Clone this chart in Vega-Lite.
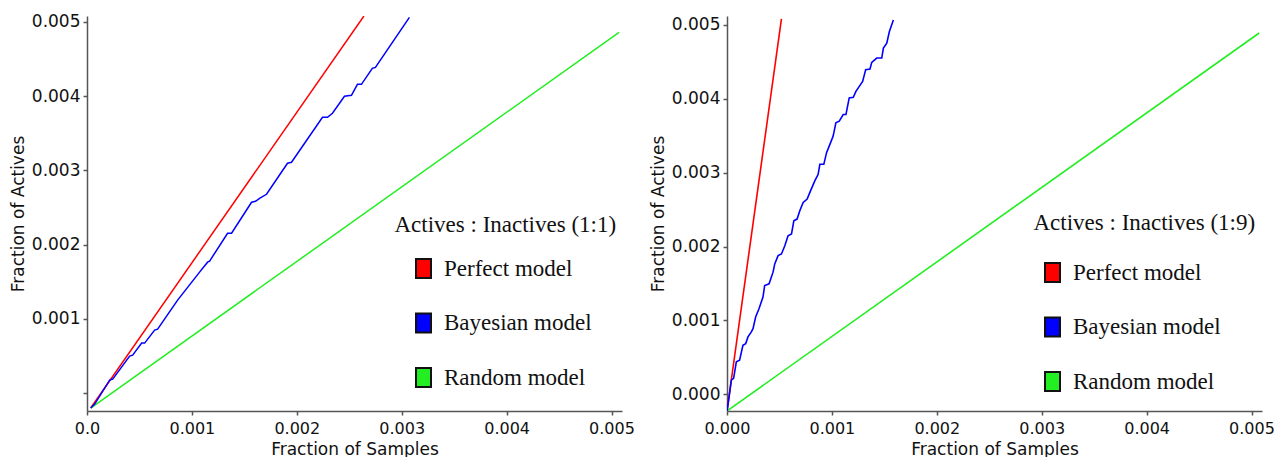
{
  "$schema": "https://vega.github.io/schema/vega-lite/v6.json",
  "padding": {"left": 9, "top": 12, "right": 12, "bottom": 0},
  "background": "white",
  "bounds": "flush",
  "spacing": 105,
  "config": {
    "view": {"stroke": null},
    "axis": {
      "grid": false,
      "domainColor": "#555",
      "domainWidth": 1.5,
      "tickColor": "#555",
      "tickWidth": 1.5,
      "tickSize": 4,
      "labelFont": "DejaVu Sans",
      "labelFontSize": 17,
      "labelColor": "#111",
      "labelPadding": 3,
      "labelFlush": false,
      "labelOverlap": false,
      "titleFont": "DejaVu Sans",
      "titleFontSize": 17,
      "titleFontWeight": "normal",
      "titleColor": "#111",
      "titlePadding": 4
    },
    "axisX": {"labelPadding": 5, "titlePadding": 5, "labelFontSize": 16},
    "legend": {
      "orient": "none",
      "titleFont": "Liberation Serif",
      "titleFontSize": 23,
      "titleFontWeight": "normal",
      "titleColor": "#111",
      "titleLimit": 500,
      "titlePadding": 18,
      "labelFont": "Liberation Serif",
      "labelFontSize": 23,
      "labelColor": "#111",
      "labelLimit": 400,
      "labelOffset": 9,
      "rowPadding": 27.5,
      "padding": 0,
      "symbolSize": 361,
      "symbolStrokeWidth": 2,
      "symbolStrokeColor": "#111",
      "symbolOpacity": 1
    }
  },
  "datasets": {
    "left": [
      {"model": "Perfect model", "x": 0.0000352, "y": -0.000202},
      {"model": "Perfect model", "x": 0.002640, "y": 0.005080},
      {"model": "Random model", "x": 0.0000352, "y": -0.000202},
      {"model": "Random model", "x": 0.005072, "y": 0.004859},
      {"model": "Bayesian model", "x": 0.0000352, "y": -0.000202},
      {"model": "Bayesian model", "x": 0.0000733, "y": -0.000148},
      {"model": "Bayesian model", "x": 0.0002162, "y": 0.000175},
      {"model": "Bayesian model", "x": 0.0002448, "y": 0.000188},
      {"model": "Bayesian model", "x": 0.0004067, "y": 0.000498},
      {"model": "Bayesian model", "x": 0.0004352, "y": 0.000511},
      {"model": "Bayesian model", "x": 0.000521, "y": 0.000673},
      {"model": "Bayesian model", "x": 0.0005495, "y": 0.000673},
      {"model": "Bayesian model", "x": 0.0006448, "y": 0.000848},
      {"model": "Bayesian model", "x": 0.0006733, "y": 0.000861},
      {"model": "Bayesian model", "x": 0.0008638, "y": 0.001252},
      {"model": "Bayesian model", "x": 0.0010733, "y": 0.001629},
      {"model": "Bayesian model", "x": 0.0011495, "y": 0.001763},
      {"model": "Bayesian model", "x": 0.0011686, "y": 0.001777},
      {"model": "Bayesian model", "x": 0.00134, "y": 0.002153},
      {"model": "Bayesian model", "x": 0.0013781, "y": 0.002153},
      {"model": "Bayesian model", "x": 0.0015686, "y": 0.002571},
      {"model": "Bayesian model", "x": 0.0016067, "y": 0.002584},
      {"model": "Bayesian model", "x": 0.0016448, "y": 0.002624},
      {"model": "Bayesian model", "x": 0.0017114, "y": 0.002678},
      {"model": "Bayesian model", "x": 0.0019114, "y": 0.003096},
      {"model": "Bayesian model", "x": 0.0019495, "y": 0.003109},
      {"model": "Bayesian model", "x": 0.0022448, "y": 0.003715},
      {"model": "Bayesian model", "x": 0.0022924, "y": 0.003715},
      {"model": "Bayesian model", "x": 0.00234, "y": 0.003769},
      {"model": "Bayesian model", "x": 0.0024543, "y": 0.003998},
      {"model": "Bayesian model", "x": 0.002521, "y": 0.004011},
      {"model": "Bayesian model", "x": 0.0025781, "y": 0.004159},
      {"model": "Bayesian model", "x": 0.0026162, "y": 0.004159},
      {"model": "Bayesian model", "x": 0.00272, "y": 0.004374},
      {"model": "Bayesian model", "x": 0.0027495, "y": 0.004388},
      {"model": "Bayesian model", "x": 0.0030733, "y": 0.005061}
    ],
    "right": [
      {"model": "Perfect model", "x": 0.0, "y": -0.000225},
      {"model": "Perfect model", "x": 0.000519, "y": 0.00508},
      {"model": "Random model", "x": 0.0, "y": -0.000225},
      {"model": "Random model", "x": 0.005073, "y": 0.00489},
      {"model": "Bayesian model", "x": 0.0, "y": -0.000225},
      {"model": "Bayesian model", "x": 0.000018, "y": -0.000054},
      {"model": "Bayesian model", "x": 0.000041, "y": 0.000193},
      {"model": "Bayesian model", "x": 0.000063, "y": 0.000216},
      {"model": "Bayesian model", "x": 0.000089, "y": 0.000441},
      {"model": "Bayesian model", "x": 0.000120, "y": 0.000462},
      {"model": "Bayesian model", "x": 0.000152, "y": 0.000664},
      {"model": "Bayesian model", "x": 0.000178, "y": 0.000687},
      {"model": "Bayesian model", "x": 0.000200, "y": 0.000778},
      {"model": "Bayesian model", "x": 0.000232, "y": 0.000845},
      {"model": "Bayesian model", "x": 0.000248, "y": 0.000889},
      {"model": "Bayesian model", "x": 0.000273, "y": 0.001047},
      {"model": "Bayesian model", "x": 0.000305, "y": 0.001159},
      {"model": "Bayesian model", "x": 0.000343, "y": 0.001317},
      {"model": "Bayesian model", "x": 0.000359, "y": 0.001473},
      {"model": "Bayesian model", "x": 0.000401, "y": 0.001496},
      {"model": "Bayesian model", "x": 0.000439, "y": 0.001654},
      {"model": "Bayesian model", "x": 0.000455, "y": 0.001765},
      {"model": "Bayesian model", "x": 0.000487, "y": 0.001877},
      {"model": "Bayesian model", "x": 0.000519, "y": 0.001900},
      {"model": "Bayesian model", "x": 0.000551, "y": 0.002012},
      {"model": "Bayesian model", "x": 0.000582, "y": 0.002147},
      {"model": "Bayesian model", "x": 0.000615, "y": 0.002170},
      {"model": "Bayesian model", "x": 0.000637, "y": 0.002349},
      {"model": "Bayesian model", "x": 0.000668, "y": 0.002372},
      {"model": "Bayesian model", "x": 0.000694, "y": 0.002484},
      {"model": "Bayesian model", "x": 0.000726, "y": 0.002597},
      {"model": "Bayesian model", "x": 0.000764, "y": 0.002642},
      {"model": "Bayesian model", "x": 0.000796, "y": 0.002753},
      {"model": "Bayesian model", "x": 0.000837, "y": 0.002888},
      {"model": "Bayesian model", "x": 0.000869, "y": 0.002978},
      {"model": "Bayesian model", "x": 0.000885, "y": 0.003113},
      {"model": "Bayesian model", "x": 0.000923, "y": 0.003113},
      {"model": "Bayesian model", "x": 0.000949, "y": 0.003271},
      {"model": "Bayesian model", "x": 0.000981, "y": 0.003383},
      {"model": "Bayesian model", "x": 0.001012, "y": 0.003495},
      {"model": "Bayesian model", "x": 0.001038, "y": 0.003675},
      {"model": "Bayesian model", "x": 0.001070, "y": 0.003697},
      {"model": "Bayesian model", "x": 0.001108, "y": 0.003787},
      {"model": "Bayesian model", "x": 0.001134, "y": 0.003787},
      {"model": "Bayesian model", "x": 0.001165, "y": 0.004012},
      {"model": "Bayesian model", "x": 0.001204, "y": 0.004020},
      {"model": "Bayesian model", "x": 0.001229, "y": 0.004101},
      {"model": "Bayesian model", "x": 0.001261, "y": 0.004168},
      {"model": "Bayesian model", "x": 0.001293, "y": 0.004236},
      {"model": "Bayesian model", "x": 0.001322, "y": 0.004394},
      {"model": "Bayesian model", "x": 0.001363, "y": 0.004403},
      {"model": "Bayesian model", "x": 0.001380, "y": 0.004492},
      {"model": "Bayesian model", "x": 0.001427, "y": 0.004551},
      {"model": "Bayesian model", "x": 0.001475, "y": 0.004551},
      {"model": "Bayesian model", "x": 0.001491, "y": 0.004686},
      {"model": "Bayesian model", "x": 0.001523, "y": 0.004753},
      {"model": "Bayesian model", "x": 0.001548, "y": 0.004910},
      {"model": "Bayesian model", "x": 0.001586, "y": 0.005067}
    ]
  },
  "resolve": {"legend": {"fill": "independent"}},
  "hconcat": [
    {
      "width": 535,
      "height": 395,
      "data": {"name": "left"},
      "encoding": {
        "x": {
          "field": "x", "type": "quantitative",
          "scale": {"domain": [0, 0.0051], "nice": false, "zero": false},
          "axis": {"title": "Fraction of Samples", "values": [0, 0.001, 0.002, 0.003, 0.004, 0.005],
                   "labelExpr": "datum.value == 0 ? '0.0' : format(datum.value, '.3f')"}
        },
        "y": {
          "field": "y", "type": "quantitative",
          "scale": {"domain": [-0.000242, 0.00508], "nice": false, "zero": false},
          "axis": {"title": "Fraction of Actives", "values": [0, 0.001, 0.002, 0.003, 0.004, 0.005],
                   "labelExpr": "datum.value == 0 ? '' : format(datum.value, '.3f')"}
        }
      },
      "layer": [
        {
          "mark": {"type": "line", "strokeWidth": 1.5, "clip": true},
          "encoding": {
            "stroke": {
              "field": "model", "type": "nominal",
              "scale": {"domain": ["Perfect model", "Bayesian model", "Random model"], "range": ["#ff0000", "#0000ff", "#22ee22"]},
              "legend": null
            }
          }
        },
        {
          "mark": {"type": "point", "filled": true, "opacity": 0, "size": 0},
          "encoding": {
            "fill": {
              "field": "model", "type": "nominal",
              "scale": {"domain": ["Perfect model", "Bayesian model", "Random model"], "range": ["#ff0000", "#0000ff", "#22ee22"]},
              "legend": {
                "title": "Actives : Inactives (1:1)",
                "legendX": 308, "legendY": 200,
                "symbolType": "M-0.79,-1H0.79V1H-0.79Z",
                "symbolStrokeColor": "#111",
                "symbolStrokeWidth": 2,
                "symbolOpacity": 1,
                "encode": {
                  "title": {"update": {"dx": {"value": -17.5}, "dy": {"value": -2}}},
                  "symbols": {"update": {"stroke": {"value": "#111"}, "strokeWidth": {"value": 2}, "opacity": {"value": 1}}}
                }
              }
            }
          }
        }
      ]
    },
    {
      "width": 535,
      "height": 395,
      "data": {"name": "right"},
      "encoding": {
        "x": {
          "field": "x", "type": "quantitative",
          "scale": {"domain": [0, 0.0051], "nice": false, "zero": false},
          "axis": {"title": "Fraction of Samples", "values": [0, 0.001, 0.002, 0.003, 0.004, 0.005], "format": ".3f"}
        },
        "y": {
          "field": "y", "type": "quantitative",
          "scale": {"domain": [-0.000225, 0.00512], "nice": false, "zero": false},
          "axis": {"title": "Fraction of Actives", "values": [0, 0.001, 0.002, 0.003, 0.004, 0.005], "format": ".3f"}
        }
      },
      "layer": [
        {
          "mark": {"type": "line", "strokeWidth": 1.6, "clip": true},
          "encoding": {
            "stroke": {
              "field": "model", "type": "nominal",
              "scale": {"domain": ["Perfect model", "Bayesian model", "Random model"], "range": ["#ff0000", "#0000ff", "#22ee22"]},
              "legend": null
            }
          }
        },
        {
          "mark": {"type": "point", "filled": true, "opacity": 0, "size": 0},
          "encoding": {
            "fill": {
              "field": "model", "type": "nominal",
              "scale": {"domain": ["Perfect model", "Bayesian model", "Random model"], "range": ["#ff0000", "#0000ff", "#22ee22"]},
              "legend": {
                "title": "Actives : Inactives (1:9)",
                "legendX": 307, "legendY": 204,
                "symbolType": "M-0.79,-1H0.79V1H-0.79Z",
                "symbolStrokeColor": "#111",
                "symbolStrokeWidth": 2,
                "symbolOpacity": 1,
                "encode": {
                  "title": {"update": {"dx": {"value": -7.5}, "dy": {"value": -8}}},
                  "symbols": {"update": {"stroke": {"value": "#111"}, "strokeWidth": {"value": 2}, "opacity": {"value": 1}}}
                }
              }
            }
          }
        }
      ]
    }
  ]
}
